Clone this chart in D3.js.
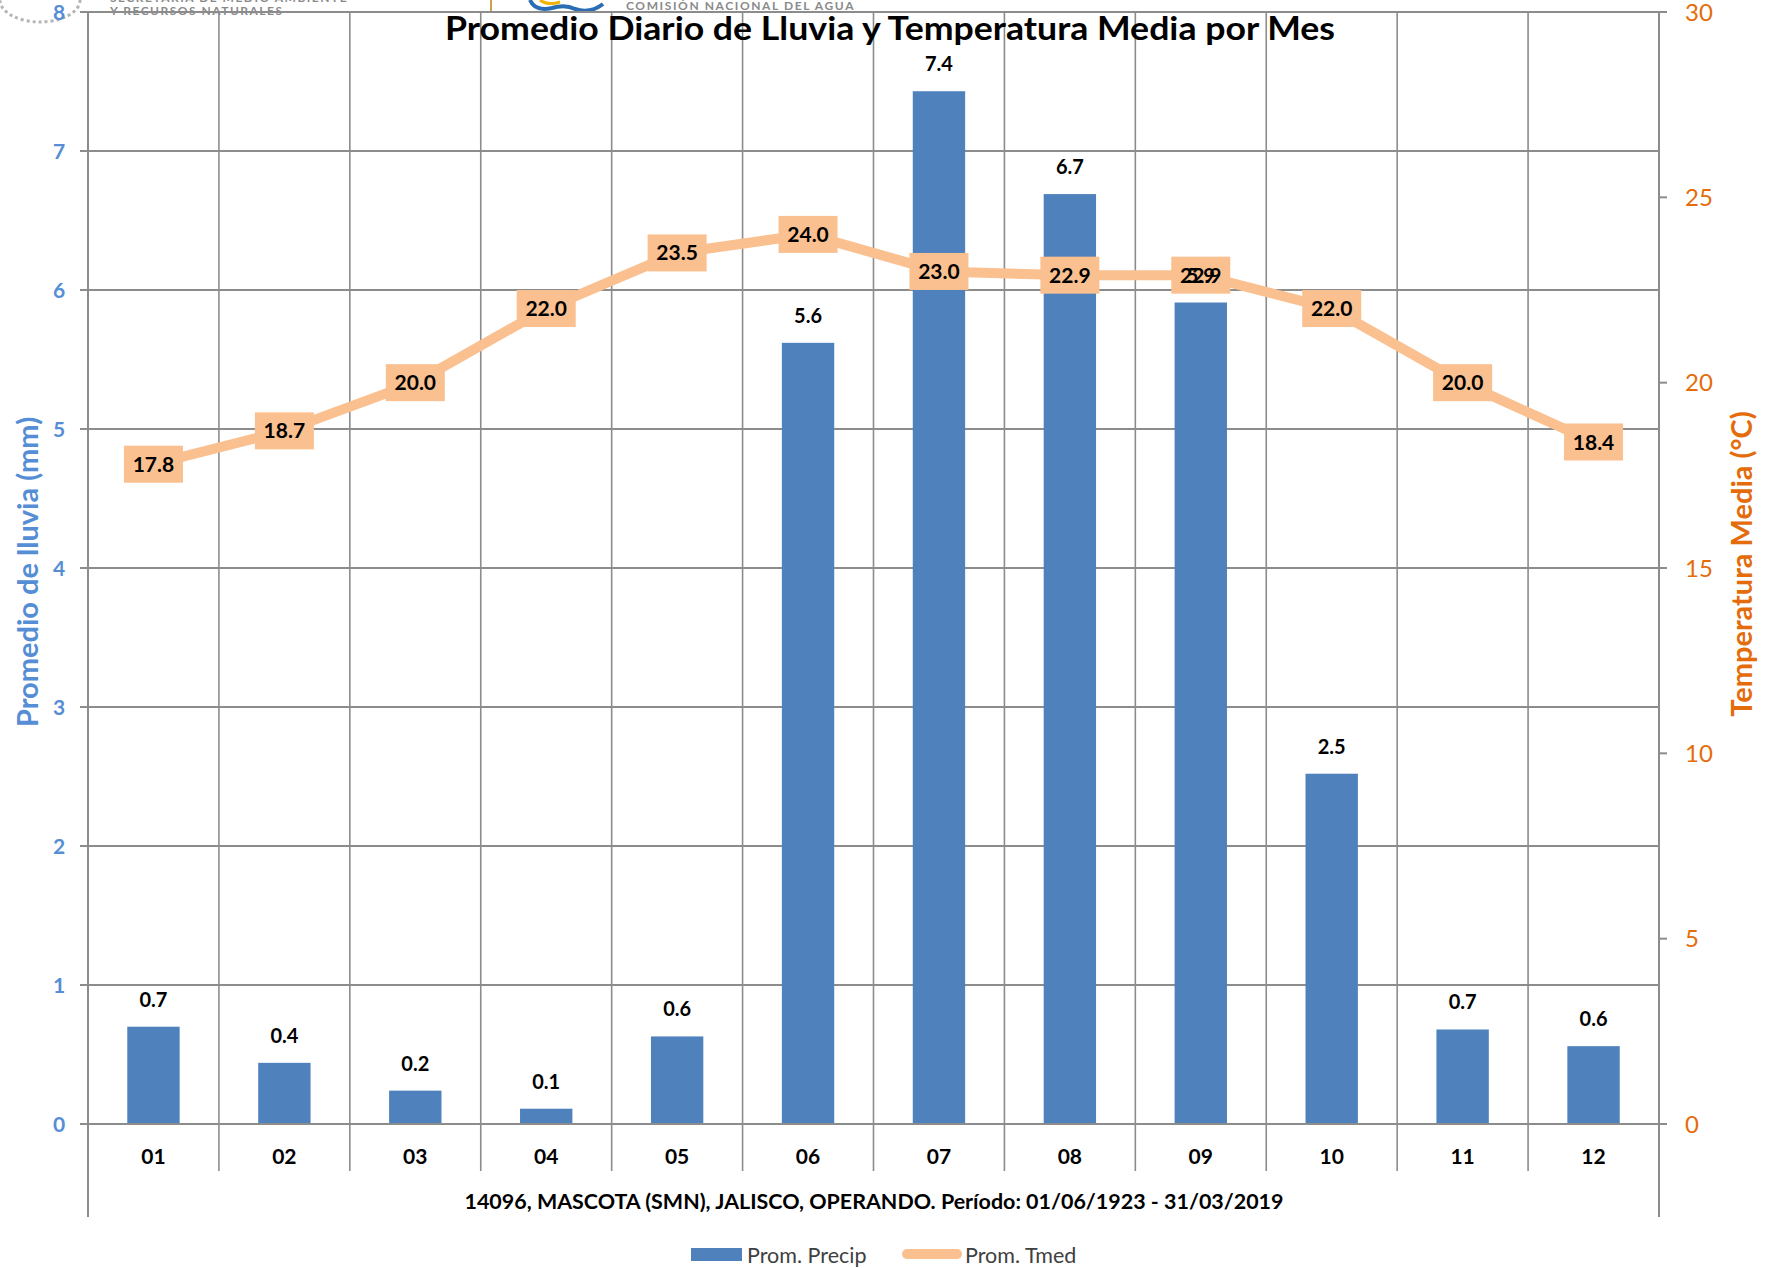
<!DOCTYPE html>
<html><head><meta charset="utf-8">
<script src="https://cdn.jsdelivr.net/npm/d3@7"></script>
<style>body{margin:0;background:#fff}svg{display:block}text{font-family:Lato,"Open Sans",sans-serif}</style>
</head><body>
<svg id="c" width="1767" height="1268"></svg>
<script>
const months = ["01","02","03","04","05","06","07","08","09","10","11","12"];
const precip = [0.70,0.44,0.24,0.11,0.63,5.62,7.43,6.69,5.91,2.52,0.68,0.56];
const tmed = [17.8,18.7,20.0,22.0,23.5,24.0,23.0,22.9,22.9,22.0,20.0,18.4];
const leftTicks = [0,1,2,3,4,5,6,7,8];
const rightTicks = [0,5,10,15,20,25,30];
const titleText = "Promedio Diario de Lluvia y Temperatura Media por Mes";
const subtitleText = "14096, MASCOTA (SMN), JALISCO, OPERANDO. Período: 01/06/1923 - 31/03/2019";
const leftTitle = "Promedio de lluvia (mm)";
const rightTitle = "Temperatura Media (°C)";
const legendLabels = ["Prom. Precip","Prom. Tmed"];

const svg = d3.select("#c");
const L = 88, R = 1659, T = 12, B = 1124;
const grid = "#8c8c8c", blue = "#4F81BD", orange = "#FAC090", axBlue = "#558ED5", axOrange = "#E46C0A";

const x = d3.scaleBand().domain(months).range([L,R]).paddingInner(0.6).paddingOuter(0.3);
const step = x.step();
const yL = d3.scaleLinear().domain([0,8]).range([B,T]);
const yR = d3.scaleLinear().domain([0,30]).range([B,T]);

// header logos (approximation)
const hdr = svg.append("g");
hdr.append("ellipse").attr("cx",40).attr("cy",0).attr("rx",40).attr("ry",22).attr("fill","none").attr("stroke","#b5b5b5").attr("stroke-width",3).attr("stroke-dasharray","3,3");
hdr.append("text").attr("x",110).attr("y",2).attr("font-size",12).attr("font-weight",700).attr("fill","#8a8a8a").attr("letter-spacing",1.5).text("SECRETARÍA DE MEDIO AMBIENTE");
hdr.append("text").attr("x",110).attr("y",15).attr("font-size",12).attr("font-weight",700).attr("fill","#8a8a8a").attr("letter-spacing",1.5).text("Y RECURSOS NATURALES");
hdr.append("line").attr("x1",491).attr("x2",491).attr("y1",0).attr("y2",12).attr("stroke","#c9a24a").attr("stroke-width",2);
hdr.append("path").attr("d","M530,0 Q535,12 552,8 Q565,4 575,9 Q590,14 603,4").attr("fill","none").attr("stroke","#2a6db5").attr("stroke-width",4);
hdr.append("path").attr("d","M540,0 Q548,6 560,2").attr("fill","none").attr("stroke","#f0b400").attr("stroke-width",3);
hdr.append("text").attr("x",626).attr("y",10).attr("font-size",12).attr("font-weight",700).attr("fill","#8a8a8a").attr("letter-spacing",1.6).text("COMISIÓN NACIONAL DEL AGUA");

// horizontal gridlines
svg.append("g").selectAll("line").data(leftTicks).join("line")
  .attr("x1",L-8).attr("x2",R).attr("y1",d=>yL(d)).attr("y2",d=>yL(d))
  .attr("stroke",grid).attr("stroke-width",2);
// right ticks
svg.append("g").selectAll("line").data(rightTicks).join("line")
  .attr("x1",R).attr("x2",R+8).attr("y1",d=>yR(d)).attr("y2",d=>yR(d))
  .attr("stroke",grid).attr("stroke-width",2);
// vertical category lines
const bounds = months.map(m=>x(m)-step*0.3).concat([R]);
svg.append("g").selectAll("line").data(bounds.slice(1,-1)).join("line")
  .attr("x1",d=>d).attr("x2",d=>d).attr("y1",T).attr("y2",1171)
  .attr("stroke",grid).attr("stroke-width",1.6);
// axis lines
[L,R].forEach(v=>svg.append("line").attr("x1",v).attr("x2",v).attr("y1",T).attr("y2",1217).attr("stroke",grid).attr("stroke-width",2));

// bars
svg.append("g").selectAll("rect").data(months).join("rect")
  .attr("x",m=>x(m)).attr("width",x.bandwidth())
  .attr("y",(m,i)=>yL(precip[i])).attr("height",(m,i)=>B-yL(precip[i]))
  .attr("fill",blue);
// zero line over bars
svg.append("line").attr("x1",L-8).attr("x2",R+8).attr("y1",B).attr("y2",B).attr("stroke",grid).attr("stroke-width",2);

// temperature line
const cx = m=>x(m)+x.bandwidth()/2;
svg.append("path").datum(months)
  .attr("d",d3.line().x(m=>cx(m)).y((m,i)=>yR(tmed[i])))
  .attr("fill","none").attr("stroke",orange).attr("stroke-width",10).attr("stroke-linejoin","round");
// temp label boxes
const tl = svg.append("g").selectAll("g").data(months).join("g")
  .attr("transform",(m,i)=>`translate(${cx(m)},${yR(tmed[i])})`);
tl.append("rect").attr("x",-29.5).attr("y",-18.5).attr("width",59).attr("height",37).attr("fill",orange);
tl.append("text").attr("text-anchor","middle").attr("dy","0.36em").attr("font-size",21).attr("font-weight",700).attr("fill","#000")
  .text((m,i)=>tmed[i].toFixed(1));

// bar labels
svg.append("g").selectAll("text").data(months).join("text")
  .attr("x",cx).attr("y",(m,i)=>yL(precip[i])-20).attr("text-anchor","middle")
  .attr("font-size",20).attr("font-weight",700).attr("fill","#000")
  .text((m,i)=>precip[i].toFixed(1));

// month labels
svg.append("g").selectAll("text").data(months).join("text")
  .attr("x",cx).attr("y",1156).attr("dy","0.36em").attr("text-anchor","middle")
  .attr("font-size",21).attr("font-weight",700).attr("fill","#000").text(m=>m);

// left tick labels
svg.append("g").selectAll("text").data(leftTicks).join("text")
  .attr("x",59).attr("y",d=>yL(d)).attr("dy","0.36em").attr("text-anchor","middle")
  .attr("font-size",21).attr("font-weight",700).attr("fill",axBlue).text(d=>d);
// right tick labels
svg.append("g").selectAll("text").data(rightTicks).join("text")
  .attr("x",1685).attr("y",d=>yR(d)).attr("dy","0.36em").attr("text-anchor","start")
  .attr("font-size",24).attr("fill",axOrange).text(d=>d);

// axis titles
svg.append("text").attr("transform","translate(28,572) rotate(-90)").attr("text-anchor","middle").attr("dy","0.36em")
  .attr("font-size",29).attr("font-weight",700).attr("fill",axBlue).text(leftTitle);
svg.append("text").attr("transform","translate(1742,564) rotate(-90)").attr("text-anchor","middle").attr("dy","0.36em")
  .attr("font-size",29).attr("font-weight",700).attr("fill",axOrange).text(rightTitle);

// title
svg.append("text").attr("x",890).attr("y",40).attr("text-anchor","middle")
  .attr("font-size",33).attr("font-weight",700).attr("fill","#000")
  .attr("textLength",890).attr("lengthAdjust","spacingAndGlyphs").text(titleText);
// subtitle
svg.append("text").attr("x",874).attr("y",1202).attr("dy","0.36em").attr("text-anchor","middle")
  .attr("font-size",20).attr("font-weight",700).attr("fill","#000")
  .attr("textLength",819).attr("lengthAdjust","spacingAndGlyphs").text(subtitleText);

// legend
const lg = svg.append("g");
lg.append("rect").attr("x",691).attr("y",1248).attr("width",51).attr("height",13).attr("fill",blue);
lg.append("text").attr("x",747).attr("y",1255).attr("dy","0.36em").attr("font-size",21.5).attr("fill","#404040").text(legendLabels[0]);
lg.append("line").attr("x1",907).attr("x2",957).attr("y1",1254).attr("y2",1254).attr("stroke",orange).attr("stroke-width",10).attr("stroke-linecap","round");
lg.append("text").attr("x",965).attr("y",1255).attr("dy","0.36em").attr("font-size",21.5).attr("fill","#404040").text(legendLabels[1]);
</script>
</body></html>
